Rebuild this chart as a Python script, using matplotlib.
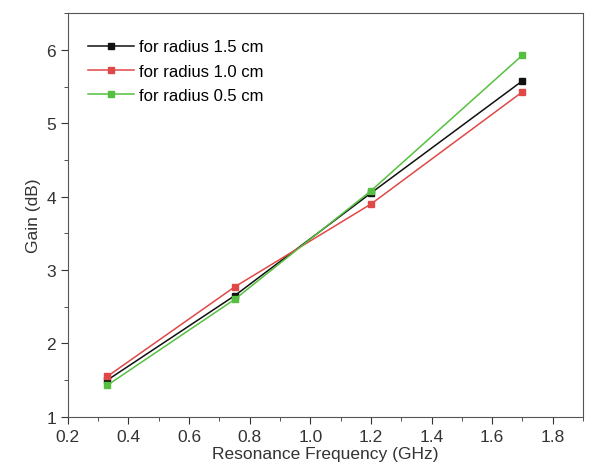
import matplotlib
matplotlib.use("Agg")
import matplotlib.pyplot as plt
from matplotlib.ticker import MultipleLocator

plt.rcParams['font.family'] = ['Liberation Sans', 'DejaVu Sans']

freq = [0.33, 0.75, 1.2, 1.7]
gain_15 = [1.50, 2.65, 4.05, 5.58]
gain_10 = [1.55, 2.77, 3.90, 5.43]
gain_05 = [1.43, 2.60, 4.08, 5.93]
labels = ['for radius 1.5 cm', 'for radius 1.0 cm', 'for radius 0.5 cm']

fig = plt.figure(figsize=(5.95, 4.77), dpi=100)
ax = fig.add_axes([0.114, 0.124, 0.866, 0.846])

ax.plot(freq, gain_15, '-s', color='#111111', ms=5, lw=1.1, label=labels[0])
ax.plot(freq, gain_10, '-s', color='#e04848', ms=5, lw=1.1, label=labels[1])
ax.plot(freq, gain_05, '-s', color='#55c040', ms=5, lw=1.1, label=labels[2])

ax.set_xlim(0.2, 1.9)
ax.set_ylim(1, 6.5)
ax.xaxis.set_minor_locator(MultipleLocator(0.1))
ax.yaxis.set_major_locator(MultipleLocator(1))
ax.yaxis.set_minor_locator(MultipleLocator(0.5))
ax.set_xticks([0.2, 0.4, 0.6, 0.8, 1.0, 1.2, 1.4, 1.6, 1.8])
ax.set_xticklabels(['0.2', '0.4', '0.6', '0.8', '1.0', '1.2', '1.4', '1.6', '1.8'])
ax.tick_params(which='major', length=5, labelsize=12.5, colors='#333333')
ax.tick_params(which='minor', length=3, colors='#333333')
for s in ax.spines.values():
    s.set_color('#555555')

ax.set_xlabel('Resonance Frequency (GHz)', fontsize=12.5, color='#333333', labelpad=2)
ax.set_ylabel('Gain (dB)', fontsize=12.5, color='#333333')

ax.legend(loc='upper left', bbox_to_anchor=(0.0, 0.985), frameon=False,
          fontsize=12, handlelength=2.8, handletextpad=0.3, labelspacing=0.55,
          borderaxespad=0.8)

fig.savefig('out.png', dpi=100)
